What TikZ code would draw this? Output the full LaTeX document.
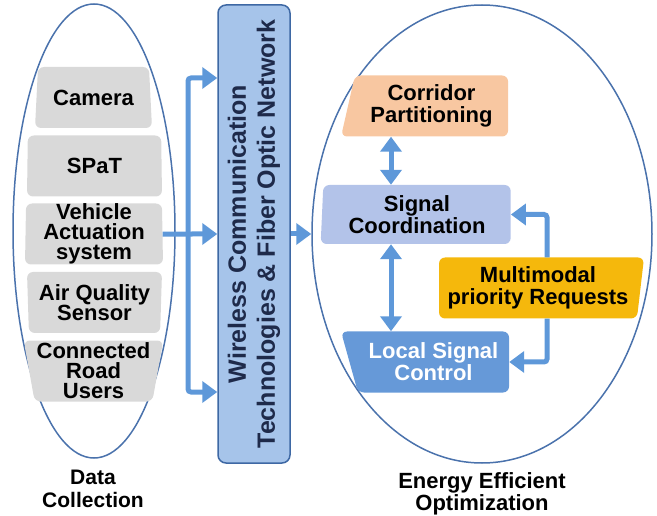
\documentclass[tikz,border=0pt]{standalone}
\usepackage{fontspec}
\setmainfont{Liberation Sans}
\usepackage{xcolor}
\usepackage{tikz}
\usetikzlibrary{arrows.meta}
\usetikzlibrary{shapes,shapes.geometric}
\usetikzlibrary{positioning}
\definecolor{rimblue}{HTML}{4A72AC}
\definecolor{flowblue}{HTML}{5E98D9}
\definecolor{boxgray}{HTML}{D9D9D9}
\definecolor{wirefill}{HTML}{A6C4EA}
\definecolor{wireline}{HTML}{3E68A4}
\definecolor{wiretext}{HTML}{1E2A4A}
\definecolor{corrfill}{HTML}{F8C7A1}
\definecolor{coordfill}{HTML}{B3C3E9}
\definecolor{multifill}{HTML}{F5B80C}
\definecolor{localfill}{HTML}{6699D8}
\tikzset{>=stealth}
\tikzset{
  flowtip/.tip={Triangle[length=15pt,width=21pt]},
  flow/.style={draw=flowblue, line width=5pt, rounded corners=3pt, -flowtip},
  txt/.style={font=\bfseries\fontsize{22}{22}\selectfont, align=center},
  sensor/.style={trapezium, trapezium stretches body, fill=boxgray, rounded corners=6pt,
    inner xsep=2pt, inner ysep=0pt, minimum height=61pt, txt,
    font=\bfseries\fontsize{22}{20}\selectfont},
  stage/.style={trapezium, trapezium stretches body, rounded corners=6pt,
    inner xsep=2pt, inner ysep=0pt, minimum height=61pt, txt},
  region/.style={ellipse, draw=rimblue, line width=1.5pt, inner sep=0pt}
}

\begin{document}
\begin{tikzpicture}[x=1pt,y=-1pt]
      \useasboundingbox (0,0) rectangle (657,516);
      % data collection side
      \node[region, minimum width=162pt, minimum height=454pt] (collect) at (94,231) {};
      \node[sensor, trapezium left angle=79, trapezium right angle=79, minimum width=117pt] (camera) at (93.5,97.5) {Camera};
      \node[sensor, trapezium left angle=87, trapezium right angle=87, minimum width=135pt] (spat) at (94.5,166) {SPaT};
      \node[sensor, trapezium left angle=89, trapezium right angle=89, minimum width=138pt] (vehicle) at (94,234) {Vehicle\\Actuation\\system};
      \node[sensor, trapezium left angle=93, trapezium right angle=93, minimum width=135pt] (airq) at (94.5,302.5) {Air Quality\\Sensor};
      \node[sensor, trapezium left angle=101, trapezium right angle=101, minimum width=117pt] (connect) at (93.5,371) {Connected\\Road\\Users};
      \node[txt, font=\bfseries\fontsize{21}{23}\selectfont] (collectlab) at (93,489) {Data\\Collection};
      % network
      \node[draw=wireline, fill=wirefill, line width=1.5pt, rounded corners=8pt, minimum width=72pt, minimum height=458pt] (wire) at (254,234) {};
      \node[rotate=90, txt, font=\bfseries\fontsize{25}{29}\selectfont, text=wiretext] (wiretxt) at (wire.center) {Wireless Communication\\Technologies \& Fiber Optic Network};
      % optimization side
      \node[region, minimum width=340pt, minimum height=458pt] (optim) at (482,234) {};
      \node[stage, fill=corrfill, trapezium left angle=72, trapezium right angle=90, minimum width=167pt] (corridor) at (431.5,106) {Corridor\\Partitioning};
      \node[stage, fill=coordfill, trapezium left angle=86, trapezium right angle=90, minimum width=190pt, minimum height=59pt] (coord) at (417,214.5) {Signal\\Coordination};
      \node[stage, fill=multifill, trapezium left angle=90, trapezium right angle=99.5, minimum width=205pt] (multi) at (538,288) {Multimodal\\priority Requests};
      \node[stage, fill=localfill, text=white, trapezium left angle=114, trapezium right angle=90, minimum width=168pt] (local) at (433.5,362) {Local Signal\\Control};
      \node[txt, font=\bfseries\fontsize{22}{22}\selectfont] (optimlab) at (482,494) {Energy Efficient\\Optimization};
      % connectors
      \coordinate (split) at (188,234);
      \coordinate (vcol) at (391,0);
      \coordinate (mcol) at (547,0);
      \draw[flow] (vehicle.east) -- (wire.west);
      \draw[flow, flowtip-flowtip] (wire.west |- 0,78) -| (split) |- (wire.west |- 0,392);
      \draw[flow] (wire.east) -- (optim.west);
      \draw[flow, flowtip-flowtip] (corridor.south -| vcol) -- (coord.north -| vcol);
      \draw[flow, flowtip-flowtip] (coord.south -| vcol) -- (local.north -| vcol);
      \draw[flow] (multi.north -| mcol) |- (coord.east);
      \draw[flow] (multi.south -| mcol) |- (local.east);
    \end{tikzpicture}
\end{document}
